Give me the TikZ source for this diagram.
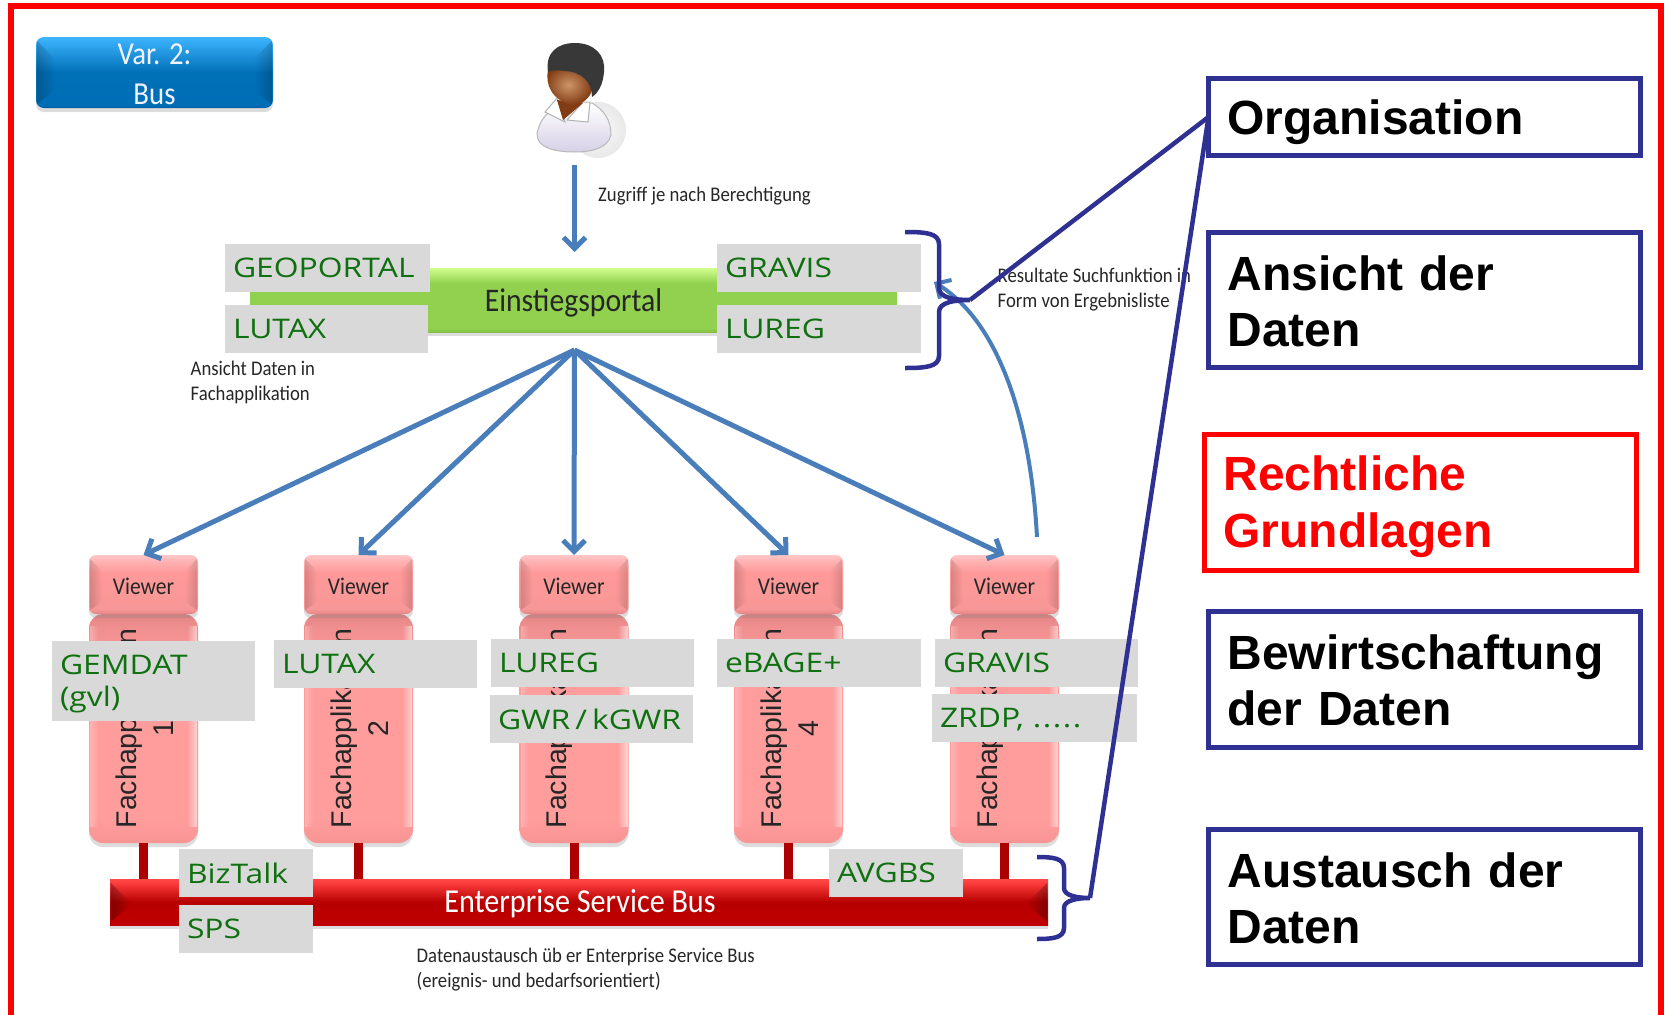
\documentclass[tikz,border=0pt]{standalone}
\usepackage{fontspec}
\setmainfont{Carlito}
\newfontfamily\narrowfont[FakeStretch=0.9]{Carlito}
\newfontfamily\boxfont{Liberation Sans}
\newfontfamily\tagfont[FakeStretch=1.18]{Open Sans}
\usetikzlibrary{arrows.meta, positioning, shadows, calc, fadings}
\definecolor{framered}{RGB}{255,0,0}
\definecolor{linknavy}{RGB}{46,49,146}
\definecolor{flowblue}{RGB}{74,126,187}
\definecolor{taggray}{RGB}{217,217,217}
\definecolor{taggreen}{RGB}{14,112,14}
\definecolor{shirtgray}{RGB}{214,208,230}
\definecolor{facelight}{RGB}{205,150,105}
\definecolor{facedark}{RGB}{130,60,20}
\pgfdeclareverticalshading{varshade}{100bp}{rgb(0bp)=(0,.36,.62); rgb(25bp)=(0,.36,.62); rgb(27bp)=(0,.43,.71); rgb(50bp)=(0,.44,.72); rgb(75bp)=(.24,.71,1); rgb(100bp)=(.24,.71,1)}
\pgfdeclareverticalshading{viewershade}{100bp}{rgb(0bp)=(.9,.52,.52); rgb(25bp)=(.9,.52,.52); rgb(29bp)=(.97,.59,.59); rgb(60bp)=(1,.6,.6); rgb(70bp)=(1,.7,.7); rgb(75bp)=(1,.78,.78); rgb(100bp)=(1,.78,.78)}
\pgfdeclareverticalshading{fachshade}{100bp}{rgb(0bp)=(.97,.58,.58); rgb(25bp)=(.97,.58,.58); rgb(30bp)=(1,.61,.61); rgb(64bp)=(1,.61,.61); rgb(72bp)=(.94,.56,.56); rgb(75bp)=(.9,.52,.52); rgb(100bp)=(.9,.52,.52)}
\pgfdeclareverticalshading{portalshade}{100bp}{rgb(0bp)=(.53,.75,.28); rgb(25bp)=(.53,.75,.28); rgb(28bp)=(.57,.82,.31); rgb(63bp)=(.57,.82,.31); rgb(75bp)=(.82,1,.56); rgb(100bp)=(.82,1,.56)}
\pgfdeclareverticalshading{esbshade}{100bp}{rgb(0bp)=(.75,0,0); rgb(25bp)=(.75,0,0); rgb(50bp)=(.72,0,0); rgb(72bp)=(1,.25,.25); rgb(75bp)=(1,.28,.28); rgb(100bp)=(1,.28,.28)}
\newcommand{\sidebevel}[3]{%
    \fill[black, opacity=#3, path fading=east] ($(#1.north west)+(1,4)$) -- ++(#2,#2) |- ($(#1.south west)+(1+#2,-#2)$) -- ($(#1.south west)+(1,-4)$) -- cycle;
    \fill[black, opacity=#3, path fading=west] ($(#1.north east)+(-1,4)$) -- ++(-#2,#2) |- ($(#1.south east)+(-1-#2,-#2)$) -- ($(#1.south east)+(-1,-4)$) -- cycle;
}
\newcommand{\topgap}[1]{\rule{0pt}{#1}}
\begin{document}
\begin{tikzpicture}[
        x=1pt, y=-1pt,
        softshadow/.style={drop shadow={shadow xshift=0pt, shadow yshift=-4pt, opacity=.28, fill=gray}},
        tagbox/.style={rectangle, fill=taggray, text=taggreen, outer sep=0pt, inner xsep=8pt, inner ysep=0pt, minimum height=48pt, text width=#1, text depth=0pt, align=left, font=\tagfont\fontsize{27}{32}\selectfont},
        infobox/.style={rectangle, draw=linknavy, line width=5pt, outer sep=0pt, anchor=north west, minimum width=432pt, inner xsep=19pt, inner ysep=0pt, text width=394pt, align=left, font=\boxfont\bfseries\fontsize{48}{56.5}\selectfont},
        viewerbox/.style={rectangle, rounded corners=7pt, shading=viewershade, outer sep=0pt, minimum width=109pt, minimum height=59pt, inner sep=0pt, softshadow},
        fachbox/.style={rectangle, rounded corners=14pt, shading=fachshade, outer sep=0pt, minimum width=109pt, minimum height=229pt, inner sep=0pt, softshadow},
        fachlabel/.style={rotate=90, align=center, text=black!85, font=\boxfont\fontsize{28.5}{37}\selectfont},
        smalltext/.style={align=left, anchor=west, inner sep=0pt, text=black!85, font=\narrowfont\fontsize{20.8}{25}\selectfont},
        flow/.style={flowblue, line width=5pt, -{Straight Barb[length=11pt, width=22pt]}},
        brace/.style={linknavy, line width=4.5pt},
        pillar/.style={red!68!black, line width=9pt}
    ]
    \useasboundingbox (0,0) rectangle (1666,1015);

    % outer frame
    \draw[framered, line width=6pt] (11,1015) -- (11,5.5) -- (1660.5,5.5) -- (1660.5,1015);

    % variant label
    \node[rectangle, rounded corners=8pt, shading=varshade, minimum width=237pt, minimum height=71pt, inner sep=0pt, softshadow] (variant) at (154.5,72.5) {};
    \sidebevel{variant}{18}{.2}
    \node[align=center, text=white!95!blue, font=\narrowfont\fontsize{32}{40}\selectfont] (varianttext) at (154.5,74) {Var. 2:\\Bus};

    % person
    \shade[inner color=gray!3, outer color=gray!18] (598,130) circle (28);
    \shade[top color=white, bottom color=shirtgray, draw=gray!55, line width=1pt] (537,134) .. controls (540,118) and (548,112) .. (558,106) -- (592,103) .. controls (604,110) and (611,120) .. (611,135) .. controls (608,148) and (592,152) .. (575,152) .. controls (555,152) and (537,148) .. (537,134) -- cycle;
    \draw[gray!60, fill=white, line width=1pt] (557,98) -- (545,112) -- (565,122) -- cycle;
    \draw[gray!60, fill=white, line width=1pt] (583,102) -- (590,102) -- (588,122) -- (567,120) -- cycle;
    \fill[facedark] (557,100) -- (583,103) -- (563,120) -- cycle;
    \shade[inner color=facelight, outer color=facedark] (548,70) .. controls (545,85) and (552,100) .. (572,105) .. controls (582,105) and (590,98) .. (592,90) .. controls (590,75) and (565,65) .. (548,70) -- cycle;
    \fill[black!78] (548,72) .. controls (545,52) and (558,43) .. (575,43) .. controls (595,43) and (606,56) .. (604,72) .. controls (603,85) and (598,93) .. (592,97) .. controls (592,82) and (582,72) .. (565,71) .. controls (558,70) and (552,70) .. (548,72) -- cycle;

    % entry portal with its tags
    \node[rectangle, shading=portalshade, minimum width=647pt, minimum height=64pt, inner sep=0pt, text=black!85, text depth=0pt, font=\narrowfont\fontsize{33}{36}\selectfont, softshadow] (portal) at (573.5,300) {Einstiegsportal};
    \node[tagbox=189pt, anchor=north west] (geoportal) at (225,244) {GEOPORTAL};
    \node[tagbox=187pt, below=13pt of geoportal, xshift=-1pt] (lutaxtop) {LUTAX};
    \node[tagbox=188pt, anchor=north west] (gravistop) at (717,244) {GRAVIS};
    \node[tagbox=188pt, below=13pt of gravistop] (luregtop) {LUREG};

    % applications and viewers
    \foreach \i/\xpos in {1/143.5, 2/358.5, 3/574, 4/788.5, 5/1004.5} {
        \node[fachbox, anchor=north] (fach\i) at (\xpos,614) {};
        \fill[white, opacity=.55, path fading=west] ($(fach\i.north east)+(-11,12)$) rectangle ($(fach\i.south east)+(-1,-16)$);
        \fill[white, opacity=.25, path fading=east] ($(fach\i.north west)+(1,12)$) rectangle ($(fach\i.south west)+(9,-16)$);
        \node[fachlabel] (fachtext\i) at ($(fach\i.center)+(1,0)$) {Fachapplikation\\\i};
        \node[viewerbox, above=0pt of fach\i] (viewer\i) {};
        \sidebevel{viewer\i}{12}{.14}
        \node[text=black!85, font=\narrowfont\fontsize{24}{26}\selectfont] (viewertext\i) at ($(viewer\i.center)+(0,1.5)$) {Viewer};
        \draw[pillar] (fach\i.south) -- ++(0,37);
    }

    % bus
    \node[rectangle, shading=esbshade, minimum width=938pt, minimum height=46pt, inner sep=0pt, softshadow] (esb) at (579,902) {};
    \sidebevel{esb}{20}{.3}
    \node[text=white, font=\narrowfont\fontsize{33.5}{36}\selectfont] (esbtext) at (580,904) {Enterprise Service Bus};

    % tags on applications
    \node[tagbox=187pt, anchor=north west, minimum height=80pt, text depth=] (gemdat) at (52,641) {\topgap{26pt}GEMDAT\\(gvl)};
    \node[tagbox=187pt, anchor=north west] (lutaxapp) at (274,640) {LUTAX};
    \node[tagbox=187pt, anchor=north west] (luregapp) at (491,639) {LUREG};
    \node[tagbox=187pt, below=8pt of luregapp, xshift=-1pt] (gwr) {\mbox{GWR\kern5pt/\kern5pt kGWR}};
    \node[tagbox=188pt, anchor=north west] (ebage) at (717,639) {eBAGE+};
    \node[tagbox=187pt, anchor=north west] (gravisapp) at (935,639) {GRAVIS};
    \node[tagbox=189pt, anchor=north west] (zrdp) at (932,694) {ZRDP, .\kern1.5pt.\kern1.5pt.\kern1.5pt.\kern1.5pt.};
    \node[tagbox=118pt, anchor=north west] (biztalk) at (179,849) {BizTalk};
    \node[tagbox=118pt, below=8pt of biztalk] (sps) {SPS};
    \node[tagbox=118pt, anchor=north west] (avgbs) at (829,849) {AVGBS};

    % small remarks
    \node[smalltext] (rightsnote) at (598,196) {Zugriff je nach Berechtigung};
    \node[smalltext] (viewnote) at (190.5,382.5) {Ansicht Daten in\\Fachapplikation};
    \node[smalltext] (resultnote) at (997.5,289.5) {Resultate Suchfunktion in\\Form von Ergebnisliste};
    \node[smalltext] (busnote) at (416.5,969.5) {Datenaustausch üb er Enterprise Service Bus\\(ereignis- und bedarfsorientiert)};

    % topics on the right
    \node[infobox, minimum height=77pt, text depth=-2pt] (organisation) at (1208.5,78.5) {Organisation};
    \node[infobox, minimum height=135pt] (ansicht) at (1208.5,232.5) {\topgap{37pt}Ansicht der\\Daten};
    \node[infobox, draw=framered, text=framered, minimum height=136pt] (recht) at (1204.5,434.5) {\topgap{43pt}Rechtliche\\Grundlagen};
    \node[infobox, minimum height=136pt] (bewirt) at (1208.5,611.5) {\topgap{36pt}Bewirtschaftung\\der Daten};
    \node[infobox, minimum height=135pt] (austausch) at (1208.5,829.5) {\topgap{37pt}Austausch der\\Daten};

    % flows
    \coordinate (personfoot) at (574.5,165);
    \coordinate (portaltop) at (574.5,252);
    \coordinate (fan) at (574.5,350);
    \draw[flow] (personfoot) -- (portaltop);
    \foreach \i in {1,...,5}
        \draw[flow] (fan) -- (viewer\i.north);
    \coordinate (returnfoot) at (1037,537);
    \coordinate (returnhead) at (934,282);
    \draw[flow, line width=4pt] (returnfoot) .. controls (1030,410) and (995,320) .. (returnhead);

    % braces and links
    \coordinate (bracetop) at (970,300);
    \coordinate (busbrace) at (1090,898);
    \draw[brace] (905,232) .. controls (925,232) and (939,233) .. (939,244) -- (939,288) .. controls (939,298) and (955,300) .. (bracetop) .. controls (955,300) and (939,302) .. (939,312) -- (939,356) .. controls (939,367) and (925,368) .. (905,368);
    \draw[brace] (1037,857) .. controls (1052,857) and (1064,858) .. (1064,868) -- (1064,888) .. controls (1064,896) and (1078,898) .. (busbrace) .. controls (1078,898) and (1064,900) .. (1064,908) -- (1064,928) .. controls (1064,938) and (1052,939) .. (1037,939);
    \draw[brace] (bracetop) -- (organisation.west);
    \draw[brace] (busbrace) -- (organisation.west);
\end{tikzpicture}
\end{document}
